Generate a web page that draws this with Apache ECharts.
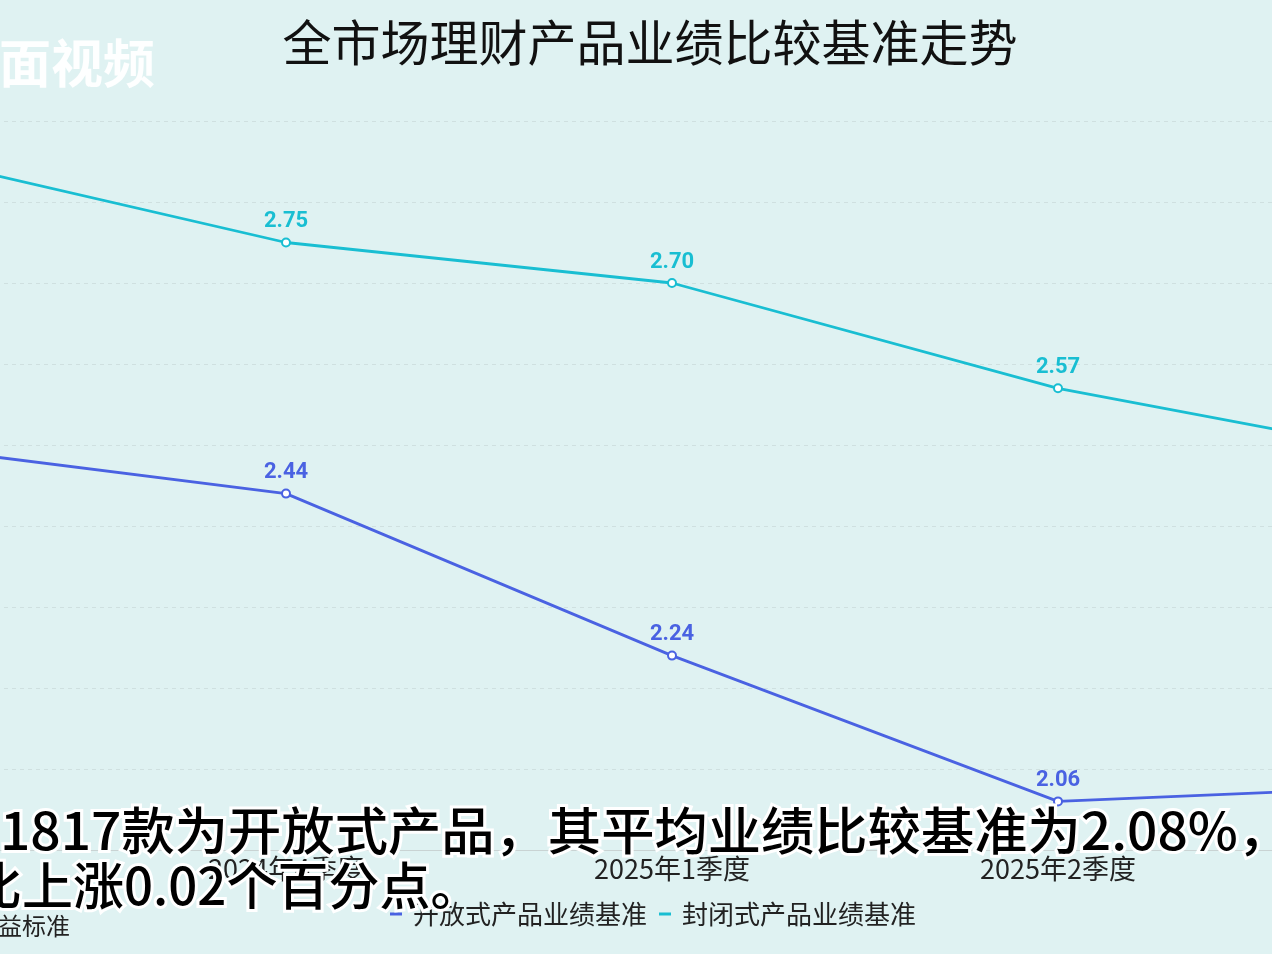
<!DOCTYPE html>
<html>
<head>
<meta charset="utf-8">
<script src="https://cdn.jsdelivr.net/npm/echarts@6/dist/echarts.min.js"></script>
<style>
html,body{margin:0;padding:0;overflow:hidden;background:#dff2f2;width:1272px;height:954px;}
#chart{position:absolute;left:-300px;top:0;width:1900px;height:954px;}
</style>
</head>
<body>
<div id="chart"></div>
<script>
// ---- data ----
const categories = ["2024年3季度", "2024年4季度", "2025年1季度", "2025年2季度", "2025年3季度"];
const openValues = [2.50, 2.44, 2.24, 2.06, 2.08];   // 开放式产品业绩基准
const closedValues = [2.86, 2.75, 2.70, 2.57, 2.48]; // 封闭式产品业绩基准
const seriesNames = ["开放式产品业绩基准", "封闭式产品业绩基准"];
const titleText = "全市场理财产品业绩比较基准走势";
const subtitleLine1 = "其中11817款为开放式产品，其平均业绩比较基准为2.08%，";
const subtitleLine2 = "环比上涨0.02个百分点。";
const watermark = "界面视频";
const noteText = "收益标准";

const OFF = 300; // div is shifted left by this many px
const cjk = '"Noto Sans CJK SC", "Noto Sans", sans-serif';
const openColor = '#4a62e2';
const closedColor = '#19bed2';

const chart = echarts.init(document.getElementById('chart'), null, {renderer: 'canvas'});
chart.setOption({
  backgroundColor: '#dff2f2',
  animation: false,
  title: {
    text: titleText,
    left: 'center',
    top: 13,
    textStyle: {fontFamily: cjk, fontSize: 49, fontWeight: 'normal', color: '#111'}
  },
  legend: {
    data: seriesNames,
    left: 385 + OFF,
    top: 896,
    icon: 'rect',
    itemWidth: 12,
    itemHeight: 3,
    itemGap: 12,
    textStyle: {fontFamily: cjk, fontSize: 26, color: '#222', padding: [0, 0, 0, 6]}
  },
  grid: {left: 200, right: 156, top: 121, bottom: 104, containLabel: false},
  xAxis: {
    type: 'category',
    data: categories,
    boundaryGap: false,
    axisLine: {lineStyle: {color: '#c9d3d3', width: 1}},
    axisTick: {show: false},
    axisLabel: {fontFamily: cjk, fontSize: 27, color: '#222', margin: 5}
  },
  yAxis: {
    type: 'value',
    min: 2.0,
    max: 2.9,
    interval: 0.1,
    axisLine: {show: false},
    axisTick: {show: false},
    axisLabel: {fontFamily: cjk, fontSize: 22, color: '#333'},
    splitLine: {lineStyle: {type: [4, 4], color: 'rgba(0,0,0,0.07)', width: 1}}
  },
  series: [
    {
      name: seriesNames[0],
      type: 'line',
      data: openValues,
      symbol: 'emptyCircle',
      symbolSize: 8,
      lineStyle: {color: openColor, width: 2.8},
      itemStyle: {color: openColor, borderWidth: 1.5},
      label: {
        show: true, position: 'top', distance: 5,
        formatter: p => p.value.toFixed(2),
        fontFamily: 'Roboto, sans-serif', fontWeight: 'bold', fontSize: 22, color: openColor
      }
    },
    {
      name: seriesNames[1],
      type: 'line',
      data: closedValues,
      symbol: 'emptyCircle',
      symbolSize: 8,
      lineStyle: {color: closedColor, width: 2.8},
      itemStyle: {color: closedColor, borderWidth: 1.5},
      label: {
        show: true, position: 'top', distance: 5,
        formatter: p => p.value.toFixed(2),
        fontFamily: 'Roboto, sans-serif', fontWeight: 'bold', fontSize: 22, color: closedColor
      }
    }
  ],
  graphic: [
    {
      type: 'text', left: OFF - 53, top: 37, z: 100,
      style: {text: watermark, fill: 'rgba(255,255,255,0.95)', font: 'bold 52px ' + cjk}
    },
    {
      type: 'text', left: OFF - 26, top: 914, z: 100,
      style: {text: noteText, fill: '#222', font: '24px ' + cjk}
    },
    {
      type: 'text', x: OFF - 137, y: 805, scaleX: 1.045, originX: 0, z: 200,
      style: {text: subtitleLine1, x: 0, y: 0, align: 'left', verticalAlign: 'top',
              fill: '#000', stroke: '#fff', lineWidth: 6, font: '500 51px ' + cjk}
    },
    {
      type: 'text', left: OFF - 83, top: 857, z: 200,
      style: {text: subtitleLine2, fill: '#000', stroke: '#fff', lineWidth: 6, font: '500 51px ' + cjk}
    }
  ]
});
</script>
</body>
</html>
